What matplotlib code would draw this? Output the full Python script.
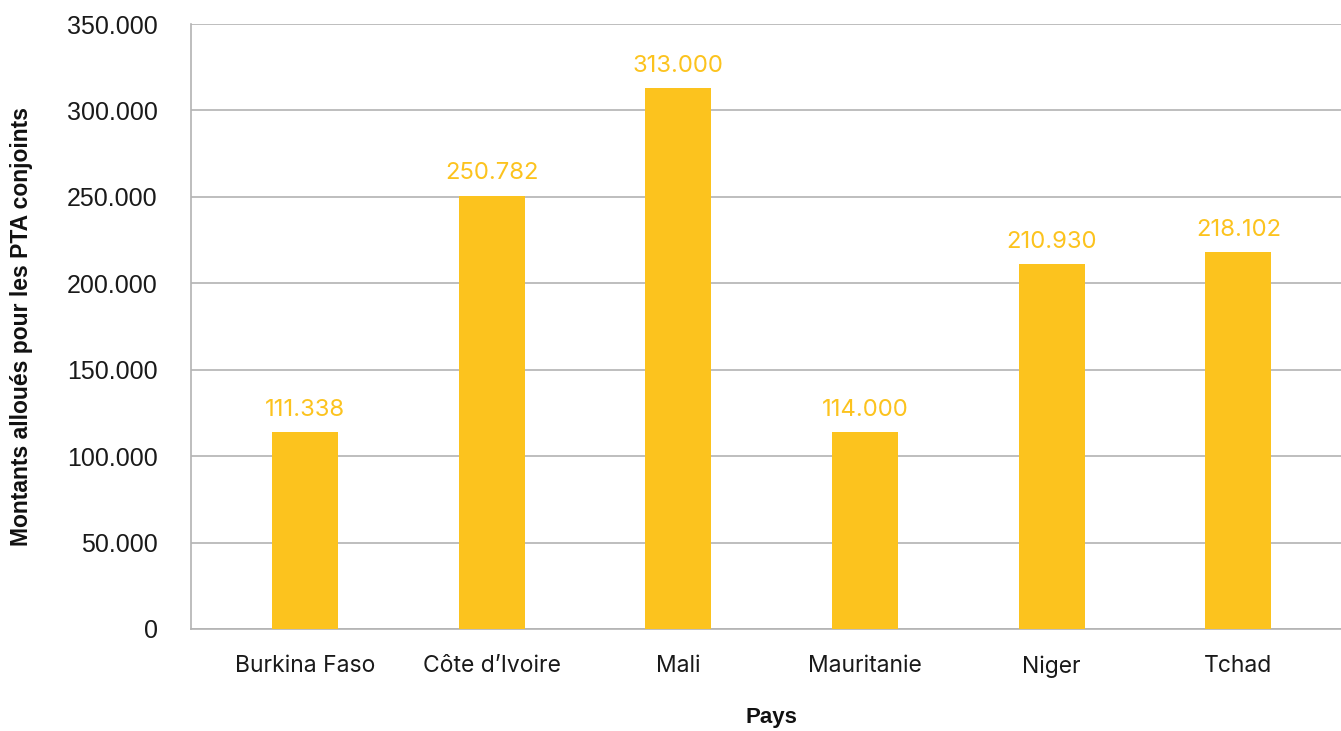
import matplotlib
matplotlib.use("Agg")
import matplotlib.pyplot as plt
from matplotlib.ticker import FuncFormatter, MultipleLocator

categories = ["Burkina Faso", "Côte d’Ivoire", "Mali", "Mauritanie", "Niger", "Tchad"]
bar_heights = [114000, 250782, 313000, 114000, 210930, 218102]
value_labels = ["111.338", "250.782", "313.000", "114.000", "210.930", "218.102"]

bar_color = "#FCC31E"
label_color = "#FCC31E"
grid_color = "#B3B3B3"

fig = plt.figure(figsize=(13.41, 7.31), dpi=100)
ax = fig.add_axes([191/1341, (731-629)/731, (1341-191)/1341, (629-24)/731])

x = list(range(len(categories)))
ax.bar(x, bar_heights, width=0.353, color=bar_color, zorder=3)

for xi, h, lab in zip(x, bar_heights, value_labels):
    ax.annotate(lab, (xi, h), xytext=(0, 8), textcoords="offset points",
                ha="center", va="bottom", color=label_color,
                fontsize=17.2, family="Inter")

ax.set_xlim(-0.61, 5.55)
ax.set_ylim(0, 350000)
ax.yaxis.set_major_locator(MultipleLocator(50000))

def fmt(v, pos):
    if v == 0:
        return "0"
    return f"{int(round(v)):,}".replace(",", ".")
ax.yaxis.set_major_formatter(FuncFormatter(fmt))

ax.grid(axis="y", color=grid_color, linewidth=1.2, zorder=0)
for s in ["top", "right"]:
    ax.spines[s].set_visible(False)
for s in ["left", "bottom"]:
    ax.spines[s].set_color(grid_color)
    ax.spines[s].set_linewidth(1.2)

ax.set_xticks(x)
ax.set_xticklabels(categories, fontsize=16.5, family="Inter", color="#1a1a1a")
ax.tick_params(axis="x", length=0, pad=19)
ax.tick_params(axis="y", length=0, pad=24, labelsize=18)
for t in ax.get_yticklabels():
    t.set_family("Liberation Sans")
    t.set_color("#1a1a1a")

fig.text(771/1341, 1 - 718/731, "Pays", fontsize=16, fontweight="bold",
         family="Liberation Sans", ha="center", va="center", color="#111111")
fig.text(22/1341, 1 - 326.5/731, "Montants alloués pour les PTA conjoints", fontsize=16.5,
         fontweight="bold", family="Liberation Sans", rotation=90,
         ha="center", va="center", color="#111111")

fig.savefig("out.png", dpi=100)
